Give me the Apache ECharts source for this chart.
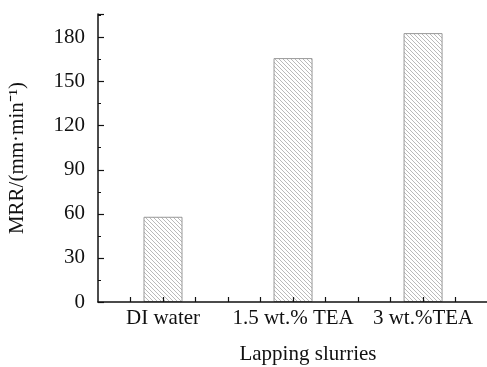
<!DOCTYPE html>
<html>
<head>
<meta charset="utf-8">
<script src="https://cdn.jsdelivr.net/npm/echarts@6/dist/echarts.min.js"></script>
<style>html,body{margin:0;padding:0;background:#fff;}#c{width:487px;height:367px;}</style>
</head>
<body>
<div id="c"></div>
<script>
const categories = ['DI water', '1.5 wt.% TEA', '3 wt.%TEA'];
const mrrValues = [58, 166, 183];
const yTicks = [0, 30, 60, 90, 120, 150, 180];

function hatch() {
  const s = 4;
  const cv = document.createElement('canvas');
  cv.width = s; cv.height = s;
  const ctx = cv.getContext('2d');
  ctx.fillStyle = '#ffffff';
  ctx.fillRect(0, 0, s, s);
  ctx.strokeStyle = '#b2b2b2';
  ctx.lineWidth = 0.9;
  ctx.beginPath();
  ctx.moveTo(-1, -1); ctx.lineTo(s + 1, s + 1);
  ctx.moveTo(-1, s - 1); ctx.lineTo(1, s + 1);
  ctx.moveTo(s - 1, -1); ctx.lineTo(s + 1, 1);
  ctx.stroke();
  return cv;
}

const font = 'Liberation Serif';
const chart = echarts.init(document.getElementById('c'));
chart.setOption({
  animation: false,
  backgroundColor: '#fff',
  grid: { left: 98, top: 14, bottom: 65, right: -31, containLabel: false, outerBoundsMode: 'none' },
  xAxis: {
    type: 'value', min: 0.5, max: 3.73, interval: 0.25, z: 5,
    name: 'Lapping slurries', nameLocation: 'middle', nameGap: 42,
    nameTextStyle: { fontFamily: font, fontSize: 21, color: '#111' },
    axisLine: { lineStyle: { color: '#111', width: 1.5 } },
    axisTick: { show: true, inside: true, length: 5, lineStyle: { color: '#111', width: 1.2 } },
    axisLabel: {
      fontFamily: font, fontSize: 21, color: '#111', margin: 6,
      showMaxLabel: false, showMinLabel: false, hideOverlap: false,
      formatter: v => (Math.abs(v - Math.round(v)) < 1e-6 && categories[Math.round(v) - 1]) ? categories[Math.round(v) - 1] : ''
    },
    splitLine: { show: false }
  },
  yAxis: {
    type: 'value', min: 0, max: 196, interval: 30, z: 5,
    name: 'MRR/(mm·min⁻¹)', nameLocation: 'middle', nameGap: 70,
    nameTextStyle: { fontFamily: font, fontSize: 21, color: '#111' },
    axisLine: { show: true, lineStyle: { color: '#111', width: 1.5 } },
    axisTick: { show: true, inside: true, length: 6, lineStyle: { color: '#111', width: 1.2 } },
    minorTick: { show: true, splitNumber: 2, length: 3, lineStyle: { color: '#111', width: 1 } },
    axisLabel: {
      fontFamily: font, fontSize: 21, color: '#111', margin: 13, showMaxLabel: false,
      formatter: v => yTicks.includes(v) ? String(v) : ''
    },
    splitLine: { show: false }
  },
  series: [{
    type: 'bar',
    barWidth: 39,
    data: mrrValues.map((v, i) => [i + 1, v]),
    itemStyle: {
      color: { image: hatch(), repetition: 'repeat' },
      borderColor: '#999999', borderWidth: 1
    }
  }]
});
</script>
</body>
</html>
